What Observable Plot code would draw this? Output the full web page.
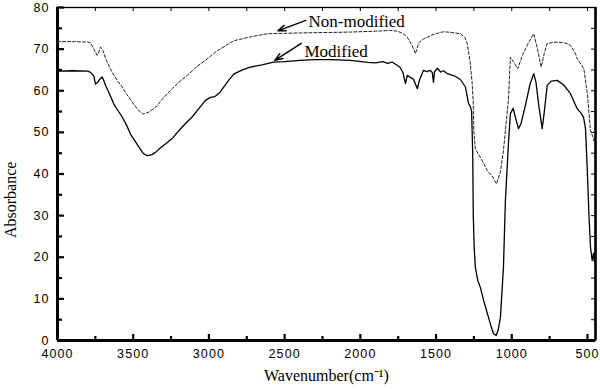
<!DOCTYPE html>
<html><head><meta charset="utf-8">
<script src="https://cdn.jsdelivr.net/npm/d3@7"></script>
<script src="https://cdn.jsdelivr.net/npm/@observablehq/plot@0.6"></script>
<style>
body{margin:0;background:#fff}
g[aria-label="x-axis tick label"] text, g[aria-label="y-axis tick label"] text{letter-spacing:1.1px}
</style>
</head><body><div id="chart"></div>
<script>
// Modified (solid)
const modWave = [4000,3900,3800,3782,3760,3749,3735,3720,3705,3695,3683,3660,3628,3600,3573,3545,3518,3490,3463,3435,3408,3380,3353,3320,3287,3240,3199,3150,3111,3060,3023,2990,2960,2930,2900,2870,2836,2780,2726,2650,2574,2500,2400,2300,2200,2065,1950,1900,1850,1820,1790,1760,1740,1720,1702,1690,1670,1650,1623,1610,1583,1560,1540,1525,1517,1510,1491,1470,1450,1425,1380,1339,1306,1286,1272,1265,1258,1254,1248,1240,1225,1207,1185,1161,1140,1121,1103,1090,1075,1055,1042,1022,1009,991,975,956,940,910,880,855,840,820,799,785,766,740,700,660,612,568,540,526,513,502,490,480,469,460,455];
const modAbs = [64.7,64.8,64.7,64.4,63.5,61.6,62.0,62.8,63.3,62.5,61.3,59.5,56.8,55.2,53.7,51.8,49.6,48.0,46.5,45.0,44.4,44.6,45.2,46.3,47.2,48.6,50.4,52.3,53.7,56.0,57.7,58.4,58.6,59.5,61.0,62.5,64.0,65.0,65.7,66.2,66.9,67.0,67.3,67.5,67.5,67.3,66.8,66.7,67.0,66.6,66.9,66.2,65.7,64.5,61.7,63.7,63.2,62.8,60.5,62.5,64.9,64.6,64.9,64.4,62.0,64.6,65.4,64.5,64.8,64.1,63.6,62.7,60.9,57.0,56.0,55.0,45.0,30.0,22.0,17.5,14.5,12.7,9.5,6.5,3.8,1.7,1.2,2.5,5.5,17.5,33.6,47.3,54.5,55.8,53.5,50.9,52.0,56.5,61.5,64.1,62.0,56.0,50.9,55.0,61.3,62.3,62.5,61.5,59.3,55.7,54.5,53.6,50.9,41.6,30.0,22.4,19.2,21.0,19.0];
// Non-modified (dashed)
const nonWave = [4000,3900,3800,3782,3760,3738,3725,3716,3700,3680,3640,3600,3573,3540,3507,3470,3437,3400,3353,3300,3243,3190,3133,3080,3023,2950,2836,2720,2613,2500,2395,2200,2065,1900,1801,1755,1720,1691,1660,1636,1615,1581,1520,1449,1400,1339,1310,1294,1275,1262,1255,1250,1240,1207,1161,1130,1101,1075,1055,1031,1022,1009,990,960,930,890,855,830,806,785,767,730,700,650,612,580,568,540,524,500,480,465,458];
const nonAbs = [71.8,71.8,71.7,71.5,70.0,68.5,69.5,70.5,69.7,67.5,64.5,62.2,60.9,59.0,57.3,55.5,54.4,54.8,56.0,58.3,60.5,62.3,64.0,65.8,67.3,69.5,72.0,73.0,73.7,73.8,73.9,74.0,74.1,74.3,74.5,74.3,73.8,72.9,71.0,68.9,71.5,72.5,73.5,74.2,74.0,73.7,72.8,71.3,67.0,62.0,57.7,50.0,46.0,44.0,40.8,39.5,37.6,40.5,45.6,54.5,57.7,68.1,67.0,65.3,68.5,71.5,73.7,70.0,65.7,69.0,71.3,71.6,71.7,71.5,70.9,69.0,67.7,66.2,65.3,59.0,50.4,49.0,48.0];

const xMajor = [4000,3500,3000,2500,2000,1500,1000,500];
const xMinor = [3750,3250,2750,2250,1750,1250,750];
const yMajor = [0,10,20,30,40,50,60,70,80];
const yMinor = [5,15,25,35,45,55,65,75];

const labelNames = ["Non-modified","Modified"];
const labelWave = [2342,2369];
const labelAbs = [76.6,69.3];
const arrowFromWave = [2360,2390];
const arrowFromAbs = [76.9,71.4];
const arrowToWave = [2545,2565];
const arrowToAbs = [74.4,67.3];

const modData = modWave.map((w,i)=>({w, a: modAbs[i]}));
const nonData = nonWave.map((w,i)=>({w, a: nonAbs[i]}));
const labels = labelNames.map((n,i)=>({n, w: labelWave[i], a: labelAbs[i]}));
const arrows = labelNames.map((n,i)=>({x1: arrowFromWave[i], y1: arrowFromAbs[i], x2: arrowToWave[i], y2: arrowToAbs[i]}));

const W = 600, H = 389, mL = 57, mR = 5, mT = 7, mB = 49;
const innerW = W - mL - mR, innerH = H - mT - mB;
const serif = "'Liberation Serif', 'Times New Roman', serif";

const chart = Plot.plot({
  width: W, height: H,
  marginLeft: mL, marginRight: mR, marginTop: mT, marginBottom: mB,
  x: {domain: [4000, 447]},
  y: {domain: [0, 80]},
  style: {fontFamily: "'Liberation Sans', Arial, sans-serif", fontSize: "12.5px", color: "#000", background: "#fff"},
  marks: [
    Plot.axisX({ticks: xMajor, tickSize: 0, tickPadding: 9, tickFormat: d3.format("d"), label: null}),
    Plot.axisY({ticks: yMajor, tickSize: 0, tickPadding: 8, tickFormat: d3.format("d"), label: null}),
    Plot.tickX(xMajor, {x: d => d, insetTop: innerH - 6, strokeWidth: 2.2}),
    Plot.tickX(xMinor, {x: d => d, insetTop: innerH - 4, strokeWidth: 2.2}),
    Plot.tickX(xMajor.concat(xMinor), {x: d => d, insetBottom: innerH - 4, strokeWidth: 1}),
    Plot.tickY(yMajor, {y: d => d, insetRight: innerW - 7, strokeWidth: 2.2}),
    Plot.tickY(yMinor, {y: d => d, insetRight: innerW - 5, strokeWidth: 2.2}),
    Plot.tickY(yMajor.concat(yMinor), {y: d => d, insetLeft: innerW - 4, strokeWidth: 1}),
    Plot.frame({strokeWidth: 1.3}),
    Plot.ruleX([4000], {strokeWidth: 3}),
    Plot.ruleX([447], {strokeWidth: 2.6}),
    Plot.ruleY([0], {strokeWidth: 3}),
    Plot.line(nonData, {x: "w", y: "a", stroke: "#222", strokeWidth: 1, strokeDasharray: "3,2"}),
    Plot.line(modData, {x: "w", y: "a", stroke: "#000", strokeWidth: 1.3}),
    Plot.arrow(arrows, {x1: "x1", y1: "y1", x2: "x2", y2: "y2", stroke: "#000", strokeWidth: 1.4, headLength: 9, headAngle: 40}),
    Plot.text(labels, {x: "w", y: "a", text: "n", textAnchor: "start", fontFamily: serif, fontSize: 17, fill: "#000"}),
    Plot.text(["Wavenumber(cm⁻¹)"], {frameAnchor: "bottom", dy: 40, fontFamily: serif, fontSize: 16, fill: "#000"}),
    Plot.text(["Absorbance"], {frameAnchor: "left", rotate: -90, dx: -47, dy: 64, fontFamily: serif, fontSize: 16, fill: "#000"})
  ]
});
document.getElementById("chart").append(chart);
</script>
</body></html>
